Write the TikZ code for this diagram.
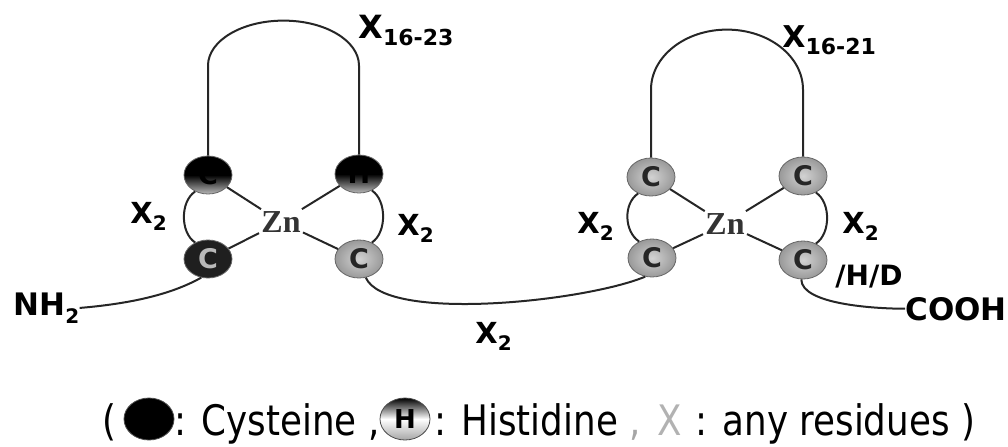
\documentclass[tikz,border=0pt]{standalone}
\usepackage{fontspec}
\setmainfont{DejaVu Sans}
\newfontfamily\znserif{Liberation Serif}
\usepackage{graphicx}
\usepackage{tikz}
\usetikzlibrary{shapes.geometric}
\newcommand{\znsub}[1]{\raisebox{-0.5ex}{\fontsize{10}{11}\selectfont #1}}
\newcommand{\znbig}[1]{\raisebox{-0.45ex}{\fontsize{11}{12}\selectfont #1}}
\newcommand{\znkeytext}[1]{\scalebox{0.85}[1]{#1}}
\tikzset{
  znball/.style={ellipse,draw=black!60,line width=0.4pt,minimum width=24pt,minimum height=19pt,inner sep=0pt,font=\fontsize{13.5}{14}\selectfont\bfseries},
  zndark/.style={znball,top color=black,bottom color=gray!55,middle color=black,text=black},
  zndarkc/.style={znball,fill=black!88,text=gray!55},
  zngrey/.style={znball,inner color=gray!35,outer color=gray!80,text=black!85},
  znmetal/.style={font=\znserif\fontsize{16}{17}\selectfont\bfseries,text=black!80,inner sep=1pt},
  znlab/.style={font=\fontsize{14.5}{16}\selectfont\bfseries,inner sep=0pt,anchor=base west},
  znchain/.style={line width=1pt,black!85},
  znbond/.style={line width=1pt,black!85},
  znleg/.style={font=\fontsize{21}{24}\selectfont,inner sep=0pt,anchor=base west},
  znkey/.style={ellipse,minimum width=25pt,minimum height=21pt,inner sep=0pt,draw=black!70,font=\fontsize{13}{14}\selectfont\bfseries},
}
\begin{document}
\begin{tikzpicture}[x=0.5pt,y=-0.5pt]
\useasboundingbox (0,0) rectangle (1008,446);

% first zinc finger
\node[zndark] (la) at (208,175) {C};
\node[zndark] (lb) at (359,174) {H};
\node[zndarkc] (lc) at (208,259) {C};
\node[zngrey] (ld) at (359,259) {C};
\node[znmetal] (lzn) at (281,222) {Zn};
\draw[znbond] (la) -- (lzn);\draw[znbond] (lb) -- (lzn);\draw[znbond] (lc) -- (lzn);\draw[znbond] (ld) -- (lzn);
\draw[znchain] (la.north) -- ++(0,-90) arc[start angle=180,end angle=360,x radius=75.5,y radius=45] -- (lb.north);
\draw[znchain] (la.232) .. controls +(-15,10) and +(-15,-10) .. (lc.128);
\draw[znchain] (lb.308) .. controls +(15,10) and +(15,-10) .. (ld.52);

% second zinc finger
\node[zngrey] (ra) at (651,177) {C};
\node[zngrey] (rb) at (803,176) {C};
\node[zngrey] (rc) at (652,258) {C};
\node[zngrey] (rd) at (803,260) {C};
\node[znmetal] (rzn) at (725,224) {Zn};
\draw[znbond] (ra) -- (rzn);\draw[znbond] (rb) -- (rzn);\draw[znbond] (rc) -- (rzn);\draw[znbond] (rd) -- (rzn);
\draw[znchain] (ra.north) -- ++(0,-68) arc[start angle=180,end angle=360,x radius=76,y radius=60] -- (rb.north);
\draw[znchain] (ra.232) .. controls +(-15,10) and +(-15,-10) .. (rc.128);
\draw[znchain] (rb.308) .. controls +(15,10) and +(15,-10) .. (rd.52);

% labels
\node[znlab] (x1) at (130,223) {X\znsub{2}};
\node[znlab] (x2) at (397,235) {X\znsub{2}};
\node[znlab] (x3) at (475,343) {X\znsub{2}};
\node[znlab] (x4) at (577,233) {X\znsub{2}};
\node[znlab] (x5) at (842,233) {X\znsub{2}};
\node[znlab,font=\fontsize{16}{18}\selectfont\bfseries] (x6) at (358,38) {X\znbig{16-23}};
\node[znlab,font=\fontsize{15}{17}\selectfont\bfseries] (x7) at (782,47) {X\znbig{16-21}};
\node[znlab,font=\fontsize{14}{15}\selectfont\bfseries] (hd) at (835,285) {/H/D};
\node[znlab,font=\fontsize{15.5}{17}\selectfont\bfseries] (nh) at (13,315) {NH\znsub{2}};
\node[znlab,font=\fontsize{15.5}{17}\selectfont\bfseries] (cooh) at (905,320) {COOH};

% backbone
\draw[znchain] (nh.east) .. controls +(60,-5) and +(-25,14) .. (lc.250);
\draw[znchain] (ld.290) .. controls +(20,45) and +(-60,25) .. (rc.250);
\draw[znchain] (rd.265) .. controls +(0,25) and +(-30,0) .. (cooh.west);

% key
\node[znleg] (k1) at (102,435) {\znkeytext{(}};
\node[znkey,fill=black,text=black] (kc) at (149,419) {C};
\node[znleg] (k2) at (174,435) {\znkeytext{: Cysteine ,}};
\node[znkey,top color=black,bottom color=gray!70,middle color=white] (kh) at (405,419) {H};
\node[znleg] (k3) at (434,435) {\znkeytext{: Histidine {\color{gray!70},}}};
\node[znleg,text=gray!60] (kx) at (657,435) {\znkeytext{X}};
\node[znleg] (k4) at (695,435) {\znkeytext{: any residues )}};
\end{tikzpicture}
\end{document}
